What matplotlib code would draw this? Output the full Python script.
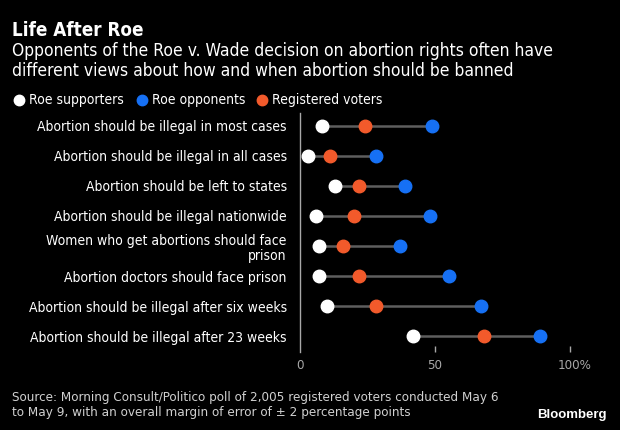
import matplotlib.pyplot as plt
from matplotlib.lines import Line2D
from matplotlib.transforms import ScaledTranslation

# dados (percentual)
categorias = [
    "Abortion should be illegal in most cases",
    "Abortion should be illegal in all cases",
    "Abortion should be left to states",
    "Abortion should be illegal nationwide",
    "Women who get abortions should face\nprison",
    "Abortion doctors should face prison",
    "Abortion should be illegal after six weeks",
    "Abortion should be illegal after 23 weeks",
]
apoiadores = [8, 3, 13, 6, 7, 7, 10, 42]      # Roe supporters
opositores = [49, 28, 39, 48, 37, 55, 67, 89]  # Roe opponents
eleitores = [24, 11, 22, 20, 16, 22, 28, 68]   # Registered voters
ticks = [0, 50, 100]
tick_labels = ["0", "50", "100%"]
legenda = ["Roe supporters", "Roe opponents", "Registered voters"]

BRANCO = "#ffffff"
AZUL = "#1670f4"
LARANJA = "#f25a2b"
CINZA = "#a8a8a8"
plt.rcParams["font.family"] = ["DejaVu Sans"]
plt.rcParams["font.stretch"] = "condensed"

fig = plt.figure(figsize=(6.2, 4.3), dpi=100, facecolor="black")
W, H = 620, 430
# eixo: x=0 em 300px, 100 em 570px; linhas de 113 a 352px
ax = fig.add_axes([300 / W, 1 - 352 / H, 297 / W, 239 / H], facecolor="black")

ys = list(range(len(categorias)))
for y, a, o in zip(ys, apoiadores, opositores):
    ax.plot([a, o], [y, y], color="#5e5e5e", lw=1.8, zorder=1)
ax.plot(apoiadores, ys, "o", color=BRANCO, ms=9, zorder=3)
ax.plot(opositores, ys, "o", color=AZUL, ms=9, zorder=3)
ax.plot(eleitores, ys, "o", color=LARANJA, ms=9, zorder=3)

ax.set_xlim(0, 110)
ax.set_ylim(7.533, -0.433)
ax.set_yticks(ys)
ax.set_yticklabels(categorias, color="white", fontsize=10, linespacing=1.15)
ax.tick_params(axis="y", length=0, pad=9.5)
ax.set_xticks(ticks)
ax.set_xticklabels(tick_labels, color=CINZA, fontsize=9.5)
ax.tick_params(axis="x", length=4.5, width=1, color=CINZA, pad=5, direction="in")
ax.xaxis.get_major_ticks()[0].tick1line.set_visible(False)
# o "100" fica centrado no tick e o "%" sobra para a direita
rot100 = ax.get_xticklabels()[-1]
rot100.set_transform(rot100.get_transform() + ScaledTranslation(0.045, 0, fig.dpi_scale_trans))
for s in ["top", "right", "bottom"]:
    ax.spines[s].set_visible(False)
ax.spines["left"].set_color(CINZA)
ax.spines["left"].set_linewidth(1)

fig.text(12 / W, 1 - 30 / H, "Life After Roe", color="white", fontsize=13.5,
         fontweight="bold", va="center")
fig.text(12 / W, 1 - 61 / H,
         "Opponents of the Roe v. Wade decision on abortion rights often have\n"
         "different views about how and when abortion should be banned",
         color="white", fontsize=12.5, va="center", linespacing=1.15)

# legenda manual no topo
for cor, txt, xp in zip([BRANCO, AZUL, LARANJA], legenda, [19, 142, 262]):
    fig.add_artist(Line2D([xp / W], [1 - 100 / H], marker="o", ls="", color=cor,
                          ms=7.5, transform=fig.transFigure))
    fig.text((xp + 10) / W, 1 - 100 / H, txt, color="white", fontsize=10, va="center")

fig.text(12 / W, 1 - 405 / H,
         "Source: Morning Consult/Politico poll of 2,005 registered voters conducted May 6\n"
         "to May 9, with an overall margin of error of \u00b1 2 percentage points",
         color="#d0d0d0", fontsize=9.6, va="center", linespacing=1.15)
fig.text(607 / W, 1 - 415 / H, "Bloomberg", color="white", fontsize=9.5,
         fontweight="bold", ha="right", va="center",
         family=["Liberation Sans", "DejaVu Sans"])

fig.savefig("out.png", dpi=100, facecolor="black")
